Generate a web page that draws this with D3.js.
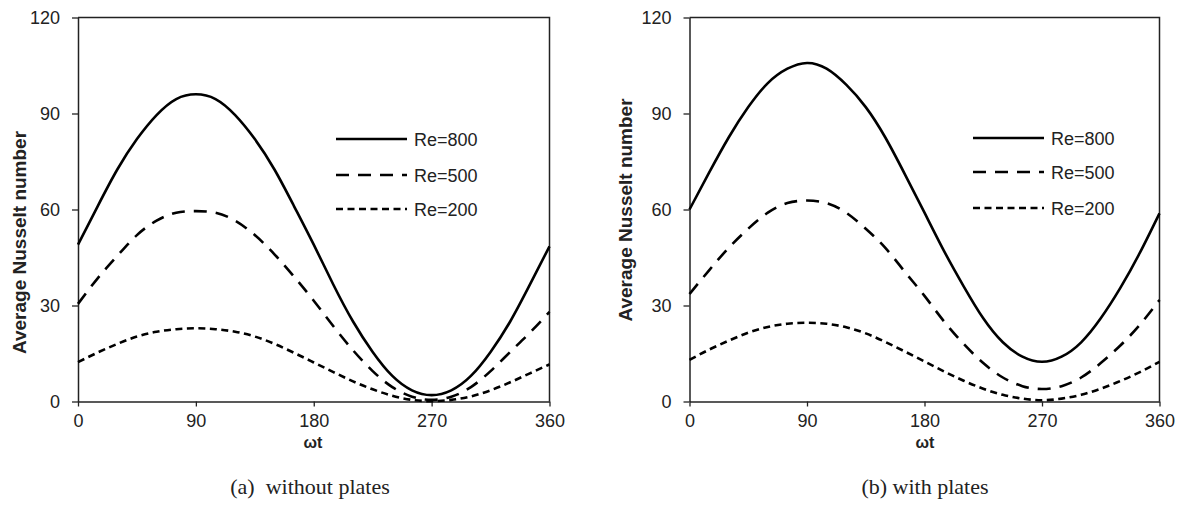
<!DOCTYPE html>
<html>
<head>
<meta charset="utf-8">
<script src="https://cdn.jsdelivr.net/npm/d3@7"></script>
<style>
  html, body { margin: 0; padding: 0; background: #fff; }
  svg { display: block; }
  .tick text { font-family: "Liberation Sans", Arial, sans-serif; font-size: 18px; fill: #222; }
</style>
</head>
<body>
<svg id="chart" width="1186" height="525"></svg>
<script>
// Phase angle (degrees), sampled every 15°
const phase = [0, 15, 30, 45, 60, 75, 90, 105, 120, 135, 150, 165, 180,
               195, 210, 225, 240, 255, 270, 285, 300, 315, 330, 345, 360];

// (a) without plates
const noPlatesRe800 = [49, 61, 72.5, 82, 89.5, 94.5, 96, 94.5, 89.5, 82, 72.5, 61, 49,
                       36.5, 25, 15.5, 8, 3.5, 2, 3.5, 8, 15.5, 25, 36.5, 48.5];
const noPlatesRe500 = [30.5, 38.5, 45.5, 52, 56.5, 59, 59.5, 59, 56.5, 52, 46, 39, 31.5,
                       23.5, 16, 9.5, 4.5, 1.5, 0.5, 1.5, 4.5, 9.5, 15.5, 21.5, 28];
const noPlatesRe200 = [12.3, 15.3, 18, 20.3, 21.8, 22.6, 22.9, 22.6, 21.8, 20.3, 18, 15.2, 12.2,
                       9.2, 6.3, 3.8, 1.8, 0.5, 0.1, 0.5, 1.6, 3.5, 6, 8.8, 11.6];

// (b) with plates
const platesRe800 = [60, 71.5, 82.5, 92, 99.5, 104, 105.8, 104, 99, 92, 82.5, 71, 59,
                     47, 36, 26, 18.5, 14, 12.4, 14, 18.5, 26, 35.5, 46.5, 58.8];
const platesRe500 = [33.6, 41, 48, 54, 59, 62, 62.8, 62, 59, 54, 48, 40.5, 33,
                     25, 18, 12, 7.5, 4.8, 3.9, 4.8, 7.5, 12, 17.5, 24, 31.7];
const platesRe200 = [13, 16.2, 19, 21.5, 23.3, 24.3, 24.6, 24.3, 23.2, 21.3, 18.6, 15.6, 12.5,
                     9.4, 6.5, 4, 2.1, 0.9, 0.4, 0.9, 2.1, 4, 6.4, 9.2, 12.4];

const seriesNames = ["Re=800", "Re=500", "Re=200"];
const xTicks = [0, 90, 180, 270, 360];
const yTicks = [0, 30, 60, 90, 120];
const yTitle = "Average Nusselt number";
const xTitle = "ωt";
const captions = ["(a)  without plates", "(b) with plates"];

// line styles per series
const dashes = [null, "13,9", "7,4.5"];

const svg = d3.select("#chart");

const panels = [
  { data: [noPlatesRe800, noPlatesRe500, noPlatesRe200], x0: 78, x1: 549.5,
    legendX: 336, legendY: [139, 175, 209], titleX: 26, titleY: 242.5, xTitleX: 313, capX: 310 },
  { data: [platesRe800, platesRe500, platesRe200], x0: 689.5, x1: 1159.5,
    legendX: 973, legendY: [138, 172, 208], titleX: 632, titleY: 210, xTitleX: 925, capX: 925 }
];

const plotTop = 17.5, plotBottom = 401.5;

panels.forEach((p, pi) => {
  const x = d3.scaleLinear().domain([0, 360]).range([p.x0, p.x1]);
  const y = d3.scaleLinear().domain([0, 120]).range([plotBottom, plotTop]);
  const g = svg.append("g");

  // frame (top and right edges)
  g.append("path")
    .attr("d", `M${p.x0},${plotTop}H${p.x1}V${plotBottom}`)
    .attr("fill", "none").attr("stroke", "#222").attr("stroke-width", 1.5);

  const xAxis = g.append("g").attr("transform", `translate(0,${plotBottom})`)
    .call(d3.axisBottom(x).tickValues(xTicks).tickSize(5).tickSizeOuter(0).tickPadding(8));
  const yAxis = g.append("g").attr("transform", `translate(${p.x0},0)`)
    .call(d3.axisLeft(y).tickValues(yTicks).tickSize(6).tickSizeOuter(0).tickPadding(12));
  [xAxis, yAxis].forEach(a => {
    a.select(".domain").attr("stroke", "#222").attr("stroke-width", 1.5);
    a.selectAll(".tick line").attr("stroke", "#222").attr("stroke-width", 1.3);
  });

  // curves
  const line = d3.line()
    .x((d, i) => x(phase[i]))
    .y(d => y(d))
    .curve(d3.curveNatural);

  p.data.forEach((vals, si) => {
    g.append("path")
      .datum(vals)
      .attr("d", line)
      .attr("fill", "none")
      .attr("stroke", "#000")
      .attr("stroke-width", 2.6)
      .attr("stroke-dasharray", dashes[si]);
  });

  // legend
  seriesNames.forEach((name, si) => {
    const ly = p.legendY[si];
    g.append("line")
      .attr("x1", p.legendX).attr("x2", p.legendX + 71)
      .attr("y1", ly).attr("y2", ly)
      .attr("stroke", "#000").attr("stroke-width", 2.6)
      .attr("stroke-dasharray", dashes[si]);
    g.append("text")
      .attr("x", p.legendX + 78).attr("y", ly + 6.5)
      .attr("font-family", "Liberation Sans, Arial, sans-serif")
      .attr("font-size", 18).attr("fill", "#222")
      .text(name);
  });

  // axis titles
  g.append("text")
    .attr("transform", `translate(${p.titleX},${p.titleY}) rotate(-90)`)
    .attr("text-anchor", "middle")
    .attr("font-family", "Liberation Sans, Arial, sans-serif")
    .attr("font-size", 19).attr("font-weight", "bold").attr("fill", "#222")
    .text(yTitle);
  g.append("text")
    .attr("x", p.xTitleX).attr("y", 448)
    .attr("text-anchor", "middle")
    .attr("font-family", "Liberation Sans, Arial, sans-serif")
    .attr("font-size", 16).attr("font-weight", "bold").attr("fill", "#222")
    .text(xTitle);

  // caption
  g.append("text")
    .attr("x", p.capX).attr("y", 494)
    .attr("text-anchor", "middle")
    .attr("font-family", "Liberation Serif, serif")
    .attr("font-size", 22).attr("fill", "#222")
    .attr("xml:space", "preserve")
    .text(captions[pi]);
});
</script>
</body>
</html>
